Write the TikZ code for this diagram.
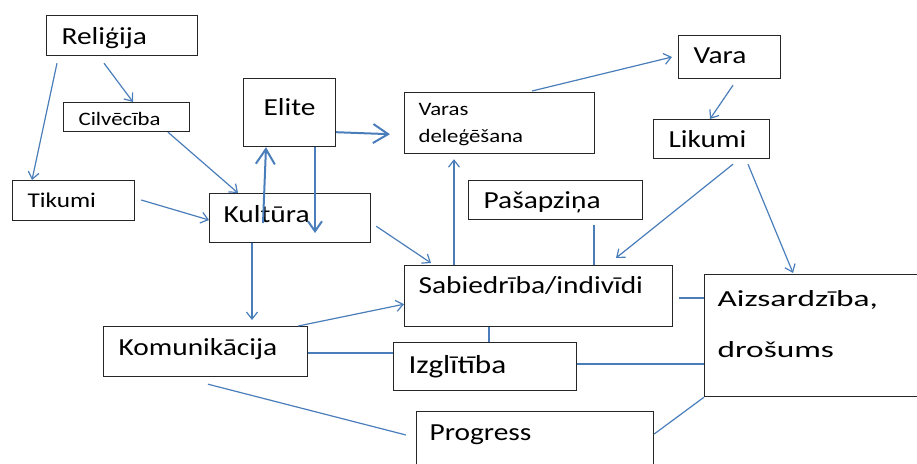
\documentclass[tikz,border=0pt]{standalone}
\usepackage{fontspec}
\setmainfont{Carlito}[FakeStretch=1.2]
\newfontfamily\widefont{Carlito}[FakeStretch=1.45]
\usetikzlibrary{arrows.meta}

\definecolor{linkblue}{RGB}{74,126,187}
\definecolor{boxline}{RGB}{38,38,38}

\tikzset{
  box/.style={draw=boxline, line width=1.2pt, anchor=north west, inner xsep=15pt, inner ysep=0pt, align=left},
  big/.style={font=\fontsize{24.5pt}{30pt}\selectfont},
  small/.style={font=\fontsize{19pt}{27pt}\selectfont},
  link/.style={draw=linkblue, line width=1.2pt},
  arr/.style={link, -{Straight Barb[length=7pt,width=11pt]}},
  bigarr/.style={draw=linkblue, line width=2pt, -{Straight Barb[length=15pt,width=19pt]}},
}

\begin{document}
\begin{tikzpicture}[x=1pt, y=-1pt]
\useasboundingbox (0,0) rectangle (917,463);
\clip (0,0) rectangle (917,463);

% boxes
\node[box, big, text width=121pt, text height=29pt, text depth=11pt] (relig) at (46,15) {Reliģija};
\node[box, small, text width=96pt, text height=23pt, text depth=6pt] (cilv) at (63,102) {Cilvēcība};
\node[box, big, align=center, text width=62pt, text height=37pt, text depth=31pt] (elite) at (243,78) {Elite};
\node[box, font=\fontsize{21pt}{26pt}\selectfont, text width=92pt, text height=27pt, text depth=13pt] (tikumi) at (12,180) {Tikumi};
\node[box, big, inner xsep=14pt, text width=133pt, text height=29pt, text depth=20pt] (kult) at (209,193) {Kultūra};
\node[box, small, inner xsep=14pt, text width=162pt, text height=23pt, text depth=38pt] (varas) at (404,92) {Varas\\deleģēšana};
\node[box, big, text width=144pt, text height=28pt, text depth=11pt] (pasap) at (468,180) {Pašapziņa};
\node[box, big, text width=72pt, text height=28pt, text depth=15pt] (vara) at (678,35) {Vara};
\node[box, big, text width=86pt, text height=28pt, text depth=11pt] (likumi) at (653,119) {Likumi};
\node[box, big, inner xsep=14pt, text width=240pt, text height=28pt, text depth=33pt] (sabied) at (404,265) {Sabiedrība/indivīdi};
\node[box, font=\fontsize{26pt}{31pt}\selectfont, text width=153pt, text height=31pt, text depth=17pt] (izgl) at (393,342) {Izglītība};
\node[box, font=\widefont\fontsize{23pt}{51pt}\selectfont, inner xsep=13pt, text width=204pt, text height=32pt, text depth=90pt] (aizs) at (704,274) {Aizsardzība,\\drošums};
\node[box, big, inner xsep=13pt, text width=211pt, text height=29pt, text depth=41pt] (prog) at (416,411) {Progress};
\node[box, big, text width=174pt, text height=29pt, text depth=21pt] (komun) at (103,326) {Komunikācija};

% arrows
\draw[arr] ([xshift=11pt,yshift=-7pt]relig.south west) -- ([xshift=20pt]tikumi.north west);
\draw[arr] ([xshift=58pt,yshift=-7pt]relig.south west) -- ([xshift=70pt]cilv.north west);
\draw[arr] ([xshift=105pt]cilv.south west) -- ([xshift=29pt]kult.north west);
\draw[arr] ([xshift=6pt,yshift=-20pt]tikumi.north east) -- ([yshift=-27pt]kult.north west);
\draw[bigarr] ([xshift=54pt,yshift=-30pt]kult.north west) -- ([xshift=23pt]elite.south west);
\draw[bigarr, -{Straight Barb[length=10pt,width=14pt]}] ([xshift=72pt]elite.south west) -- ([xshift=106pt,yshift=-40pt]kult.north west);
\draw[bigarr] ([yshift=15pt]elite.south east) -- ([xshift=-14pt,yshift=20pt]varas.south west);
\draw[arr] ([xshift=128pt,yshift=1pt]varas.north west) -- ([xshift=-6pt,yshift=-22pt]vara.north west);
\draw[arr] ([xshift=55pt,yshift=-6pt]vara.south west) -- ([xshift=57pt]likumi.north west);
\draw[arr] ([xshift=80pt,yshift=-5pt]likumi.south west) -- ([xshift=212pt,yshift=7pt]sabied.north west);
\draw[arr] ([xshift=95pt,yshift=-5pt]likumi.south west) -- ([xshift=89pt,yshift=1pt]aizs.north west);
\draw[arr] ([xshift=5pt,yshift=17pt]kult.south east) -- ([xshift=27pt,yshift=2pt]sabied.north west);
\draw[arr] ([xshift=50pt]sabied.north west) -- ([xshift=50pt,yshift=-5pt]varas.south west);
\draw[arr] ([xshift=43pt]kult.south west) -- ([xshift=149pt,yshift=6pt]komun.north west);
\draw[arr] ([xshift=-10pt]komun.north east) -- ([yshift=23pt]sabied.south west);

% plain links
\draw[link] ([xshift=126pt,yshift=-5pt]pasap.south west) -- ([xshift=190pt]sabied.north west);
\draw[link] ([yshift=-27pt]komun.north east) -- ([yshift=-11pt]izgl.north west);
\draw[link] ([xshift=85pt]sabied.south west) -- ([xshift=96pt]izgl.north west);
\draw[link] ([xshift=6pt,yshift=-33pt]sabied.north east) -- ([yshift=-24pt]aizs.north west);
\draw[link] ([yshift=-22pt]izgl.north east) -- ([yshift=-90pt]aizs.north west);
\draw[link] (aizs.south west) -- ([yshift=-23pt]prog.north east);
\draw[link] ([xshift=105pt,yshift=-7pt]komun.south west) -- ([xshift=-10pt,yshift=-24pt]prog.north west);
\end{tikzpicture}
\end{document}
